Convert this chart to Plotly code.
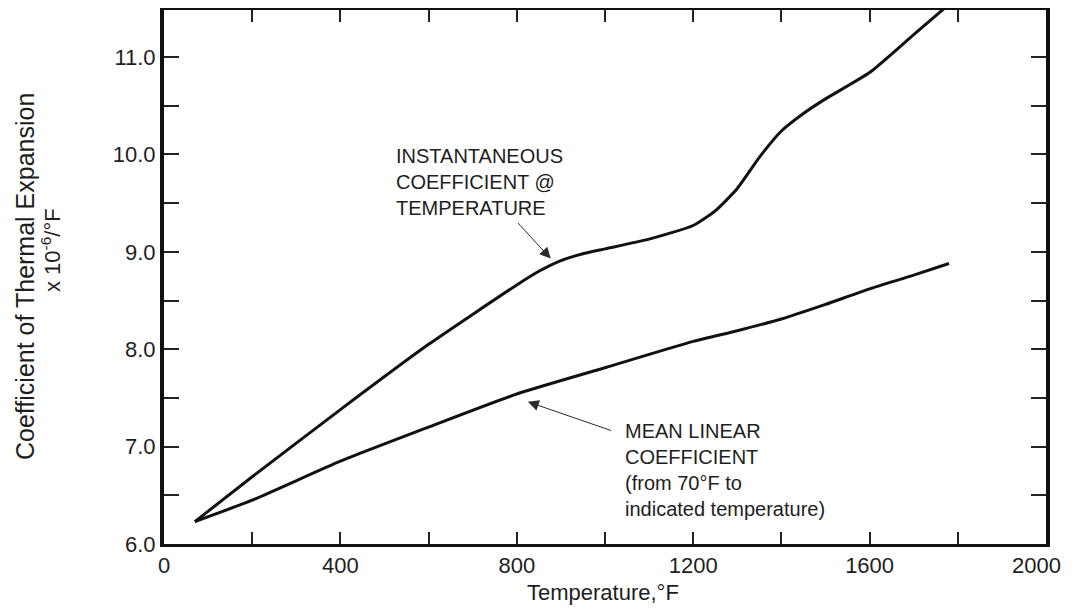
import plotly.graph_objects as go

# ---- data ----
temp_inst = [70, 200, 400, 600, 800, 850, 900, 950, 1000, 1100, 1200, 1250, 1300, 1350, 1400, 1450, 1500, 1600, 1700, 1780]
coef_inst = [6.23, 6.69, 7.38, 8.05, 8.66, 8.80, 8.91, 8.98, 9.03, 9.13, 9.27, 9.42, 9.65, 9.97, 10.24, 10.42, 10.57, 10.84, 11.23, 11.54]

temp_mean = [70, 200, 400, 600, 800, 1000, 1200, 1300, 1400, 1500, 1600, 1700, 1780]
coef_mean = [6.23, 6.45, 6.85, 7.20, 7.54, 7.81, 8.08, 8.19, 8.31, 8.46, 8.62, 8.76, 8.88]

x_tickvals = list(range(0, 2001, 200))
x_ticktext = [str(v) if (v % 400 == 0 and v < 2000) else "" for v in x_tickvals]
x_last_label = "2000"
y_tickvals = [6.0, 6.5, 7.0, 7.5, 8.0, 8.5, 9.0, 9.5, 10.0, 10.5, 11.0]
y_ticktext = [f"{v:.1f}" if v == int(v) else "" for v in y_tickvals]

label_inst = ["INSTANTANEOUS", "COEFFICIENT @", "TEMPERATURE"]
label_mean = ["MEAN LINEAR", "COEFFICIENT", "(from 70°F to", "indicated temperature)"]
arrow_inst = (877, 8.93)   # point on the curve the label points to
arrow_mean = (825, 7.46)

FONT = "Liberation Sans, Arial, Helvetica, sans-serif"
TXT = "#1e1e1e"

# page has an 8px body margin; target plot box on screen: x 164..1046, y 10..544
OFF = 8
SL, ST, SR, SB = 164, 10, 1046, 544
L, T = SL - OFF, ST - OFF
R, B = 1073 - (SR - OFF), 613 - (SB - OFF)
PW, PH = SR - SL, SB - ST
Y_MAX = 11.0 + (57 - ST) / 97.4


def px(xp):
    return (xp - SL) / PW


def py(yp):
    return (SB - yp) / PH


fig = go.Figure()
fig.add_trace(go.Scatter(x=temp_inst, y=coef_inst, mode="lines",
                         line=dict(color="#111111", width=3, shape="spline", smoothing=0.5),
                         showlegend=False, hoverinfo="skip"))
fig.add_trace(go.Scatter(x=temp_mean, y=coef_mean, mode="lines",
                         line=dict(color="#111111", width=3, shape="spline", smoothing=0.5),
                         showlegend=False, hoverinfo="skip"))

annotations = []
# labels with their arrows (text box centred at the arrow tail offset)
annotations.append(dict(x=arrow_inst[0], y=arrow_inst[1], xref="x", yref="y",
                        ax=-71, ay=-77, text="<br>".join(label_inst), align="left",
                        showarrow=True, arrowhead=2, arrowsize=2.2, arrowwidth=1,
                        arrowcolor="#2a2a2a", startstandoff=4,
                        font=dict(family=FONT, size=20, color=TXT)))
annotations.append(dict(x=arrow_mean[0], y=arrow_mean[1], xref="x", yref="y",
                        ax=197, ay=68, text="<br>".join(label_mean), align="left",
                        showarrow=True, arrowhead=2, arrowsize=2.2, arrowwidth=1,
                        arrowcolor="#2a2a2a", startstandoff=13,
                        font=dict(family=FONT, size=20, color=TXT)))
# last x tick label, nudged left so it stays inside the page (as in the reference)
annotations.append(dict(x=2000, y=py(565), xref="x", yref="paper", xshift=-10,
                        text=x_last_label, showarrow=False, xanchor="center", yanchor="middle",
                        font=dict(family=FONT, size=22, color=TXT)))
# axis titles
annotations.append(dict(x=px(603), y=py(592), xref="paper", yref="paper",
                        text="Temperature,°F", showarrow=False, xanchor="center", yanchor="middle",
                        font=dict(family=FONT, size=22, color=TXT)))
annotations.append(dict(x=px(25), y=py(277), xref="paper", yref="paper",
                        text="Coefficient of Thermal Expansion", showarrow=False, textangle=-90,
                        xanchor="center", yanchor="middle",
                        font=dict(family=FONT, size=25, color=TXT)))
annotations.append(dict(x=px(51), y=py(250), xref="paper", yref="paper",
                        text="x 10<sup>-6</sup>/°F", showarrow=False, textangle=-90,
                        xanchor="center", yanchor="middle",
                        font=dict(family=FONT, size=22, color=TXT)))

fig.update_layout(
    width=1073, height=613,
    margin=dict(l=L, r=R, t=T, b=B, autoexpand=False),
    paper_bgcolor="white", plot_bgcolor="white",
    annotations=annotations,
    xaxis=dict(range=[0, 2000], tickvals=x_tickvals, ticktext=x_ticktext,
               ticks="inside", ticklen=12, tickwidth=1.5, tickcolor="#222",
               showline=True, linecolor="#111", linewidth=3, mirror="ticks",
               showgrid=False, zeroline=False, automargin=False,
               tickfont=dict(family=FONT, size=22, color=TXT)),
    yaxis=dict(range=[6.0, Y_MAX], tickvals=y_tickvals, ticktext=y_ticktext,
               ticks="inside", ticklen=15, tickwidth=1.5, tickcolor="#222",
               showline=True, linecolor="#111", linewidth=4, mirror="ticks",
               showgrid=False, zeroline=False, automargin=False,
               tickfont=dict(family=FONT, size=22, color=TXT)),
)

fig.write_html("out.html")
